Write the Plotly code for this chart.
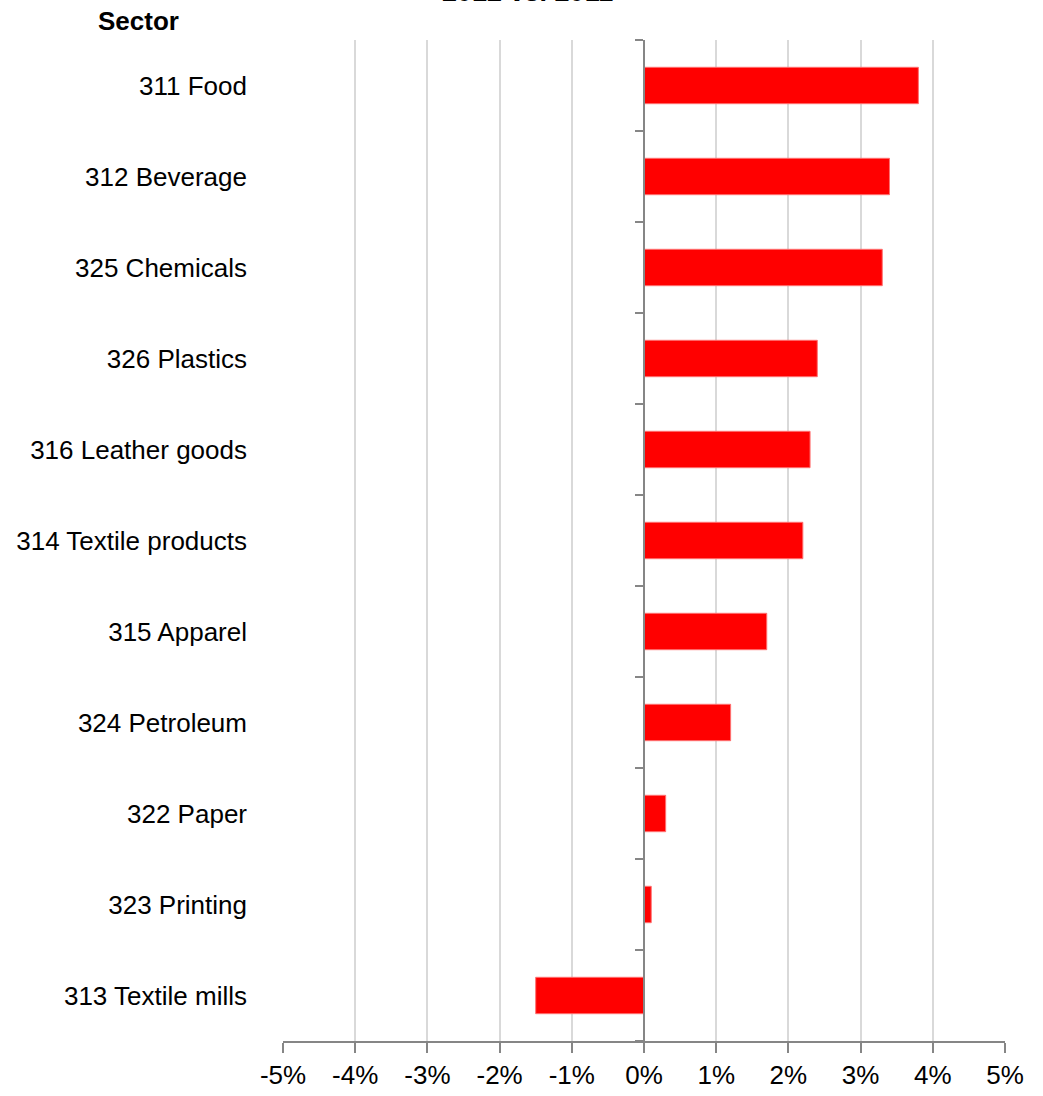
import plotly.graph_objects as go

sectors = ["311 Food", "312 Beverage", "325 Chemicals", "326 Plastics", "316 Leather goods",
           "314 Textile products", "315 Apparel", "324 Petroleum", "322 Paper", "323 Printing",
           "313 Textile mills"]
change_pct = [3.8, 3.4, 3.3, 2.4, 2.3, 2.2, 1.7, 1.2, 0.3, 0.1, -1.5]
x_tickvals = [-5, -4, -3, -2, -1, 0, 1, 2, 3, 4, 5]
x_ticktext = ["-5%", "-4%", "-3%", "-2%", "-1%", "0%", "1%", "2%", "3%", "4%", "5%"]

FONT = "Liberation Sans, Arial, sans-serif"
AXIS = "#868686"

fig = go.Figure()
fig.add_trace(go.Bar(
    x=change_pct, y=sectors, orientation="h",
    marker=dict(color="#FF0000", line=dict(color="#FF7070", width=1)),
    showlegend=False,
))
# invisible trace to activate the axis at zero
fig.add_trace(go.Scatter(x=[0], y=[0], yaxis="y2", mode="markers",
                         marker=dict(opacity=0), showlegend=False, hoverinfo="skip"))

fig.update_layout(
    width=1043, height=1096,
    margin=dict(l=283, r=38, t=40, b=55),
    paper_bgcolor="white", plot_bgcolor="white",
    font=dict(family=FONT, size=26, color="black"),
    bargap=0.6,
    xaxis=dict(range=[-5, 5], tickvals=x_tickvals, ticktext=x_ticktext,
               showgrid=True, gridcolor="#d9d9d9", gridwidth=2,
               zeroline=False, showline=True, linecolor=AXIS, linewidth=2,
               ticks="outside", ticklen=10, tickwidth=2, tickcolor=AXIS,
               automargin=False,
               tickfont=dict(family=FONT, size=26, color="black")),
    yaxis=dict(type="category", categoryorder="array", categoryarray=sectors,
               autorange="reversed", showgrid=False, zeroline=False,
               showline=False, ticks="", ticklabelstandoff=35, automargin=False,
               tickfont=dict(family=FONT, size=26, color="black")),
    yaxis2=dict(overlaying="y", anchor="free", position=0.5, range=[11, 0],
                tickvals=list(range(0, 12)), showticklabels=False,
                ticks="outside", ticklen=8, tickwidth=2, tickcolor=AXIS,
                showline=True, linecolor=AXIS, linewidth=2, automargin=False,
                showgrid=False, zeroline=False),
    annotations=[
        dict(text="<b>Sector</b>", xref="paper", yref="paper", x=-0.259, y=1,
             xanchor="left", yanchor="bottom", yshift=2, showarrow=False,
             font=dict(family=FONT, size=26, color="black")),
        dict(text="<b>2012 vs. 2011</b>", xref="paper", yref="paper", x=0.338, y=1,
             xanchor="center", yanchor="bottom", yshift=31, showarrow=False,
             font=dict(family=FONT, size=27, color="black")),
    ],
)

fig.write_html("out.html", config={"displayModeBar": False},
               post_script="document.body.style.margin='0';document.body.style.overflow='hidden';")
